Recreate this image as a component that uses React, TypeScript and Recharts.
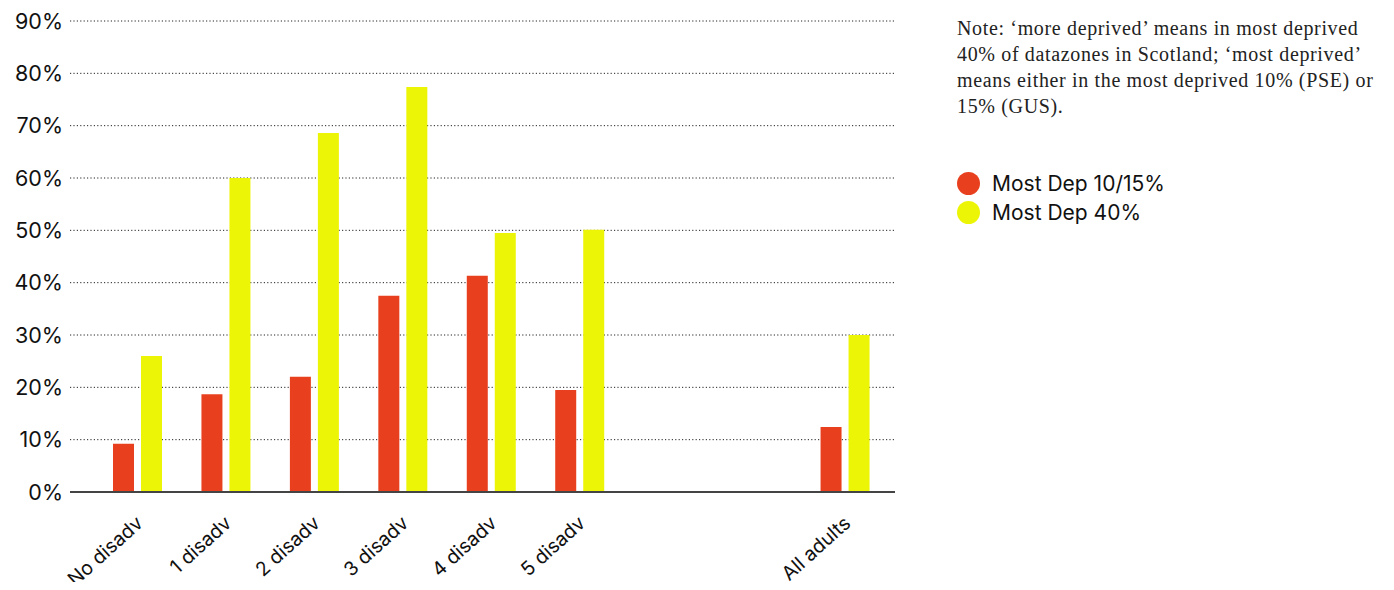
import React from 'react'
import { BarChart, Bar, XAxis, YAxis, CartesianGrid } from 'recharts'

const categories = ['No disadv', '1 disadv', '2 disadv', '3 disadv', '4 disadv', '5 disadv', '', ' ', 'All adults']
const mostDep1015 = [9.2, 18.7, 22.0, 37.5, 41.3, 19.5, null, null, 12.4]
const mostDep40 = [26.0, 60.0, 68.6, 77.4, 49.5, 50.1, null, null, 30.0]
const yTicks = [0, 10, 20, 30, 40, 50, 60, 70, 80, 90]

const seriesNames = ['Most Dep 10/15%', 'Most Dep 40%']
const seriesColors = ['#e8401e', '#edf506']

const noteLines = [
  'Note: \u2018more deprived\u2019 means in most deprived',
  '40% of datazones in Scotland; \u2018most deprived\u2019',
  'means either in the most deprived 10% (PSE) or',
  '15% (GUS).',
]

const data = categories.map((c, i) => ({
  name: c,
  dep1015: mostDep1015[i],
  dep40: mostDep40[i],
}))

const sans = 'Inter, "Noto Sans", sans-serif'

// rotated category label, anchored at its end just under the axis
const AngledTick = (props: any) => {
  const { x, y, payload } = props
  return (
    <g transform={`translate(${x + 7},${y + 33}) rotate(-42)`}>
      <text textAnchor="end" fill="#111" fontSize={19.5} fontFamily={sans}>
        {payload.value}
      </text>
    </g>
  )
}

export default function App() {
  return (
    <div style={{ position: 'relative', width: 1378, height: 574 }}>
      <div style={{ position: 'absolute', left: 0, top: 0 }}>
        <BarChart
          width={900}
          height={582}
          data={data}
          margin={{ top: 13, right: 13, bottom: 0, left: 0 }}
          barSize={21}
          barGap={7}
          style={{ overflow: 'visible' }}
        >
          <XAxis
            dataKey="name"
            interval={0}
            height={98}
            padding={{ left: 23, right: 6 }}
            axisLine={{ stroke: '#444', strokeWidth: 2 }}
            tickLine={false}
            tickSize={0}
            tickMargin={0}
            tick={<AngledTick />}
          />
          <YAxis
            width={62}
            domain={[0, 90]}
            ticks={yTicks}
            axisLine={false}
            tickLine={false}
            tickSize={0}
            tickMargin={7}
            tickFormatter={(v) => `${v}%`}
            tick={{ fill: '#111', fontSize: 21.5, fontFamily: sans }}
          />
          <Bar dataKey="dep1015" name={seriesNames[0]} fill={seriesColors[0]} isAnimationActive={false} />
          <Bar dataKey="dep40" name={seriesNames[1]} fill={seriesColors[1]} isAnimationActive={false} />
          <CartesianGrid
            vertical={false}
            stroke="#222"
            strokeDasharray="1.2 2.2"
            horizontalValues={yTicks.slice(1)}
          />
        </BarChart>
      </div>

      {/* note + legend on the right */}
      <div
        style={{
          position: 'absolute',
          left: 949,
          top: 7,
          fontFamily: '"Liberation Serif", serif',
          fontSize: 20,
          letterSpacing: 0.65,
          lineHeight: '26px',
          color: '#222',
          whiteSpace: 'nowrap',
        }}
      >
        {noteLines.map((l, i) => (
          <div key={i}>{l}</div>
        ))}
      </div>
      <div style={{ position: 'absolute', left: 949, top: 161, fontFamily: sans, fontSize: 21, color: '#111' }}>
        {seriesNames.map((n, i) => (
          <div key={n} style={{ display: 'flex', alignItems: 'center', height: 29 }}>
            <span
              style={{
                width: 23,
                height: 23,
                borderRadius: '50%',
                background: seriesColors[i],
                marginRight: 12,
                display: 'inline-block',
              }}
            />
            {n}
          </div>
        ))}
      </div>
    </div>
  )
}
